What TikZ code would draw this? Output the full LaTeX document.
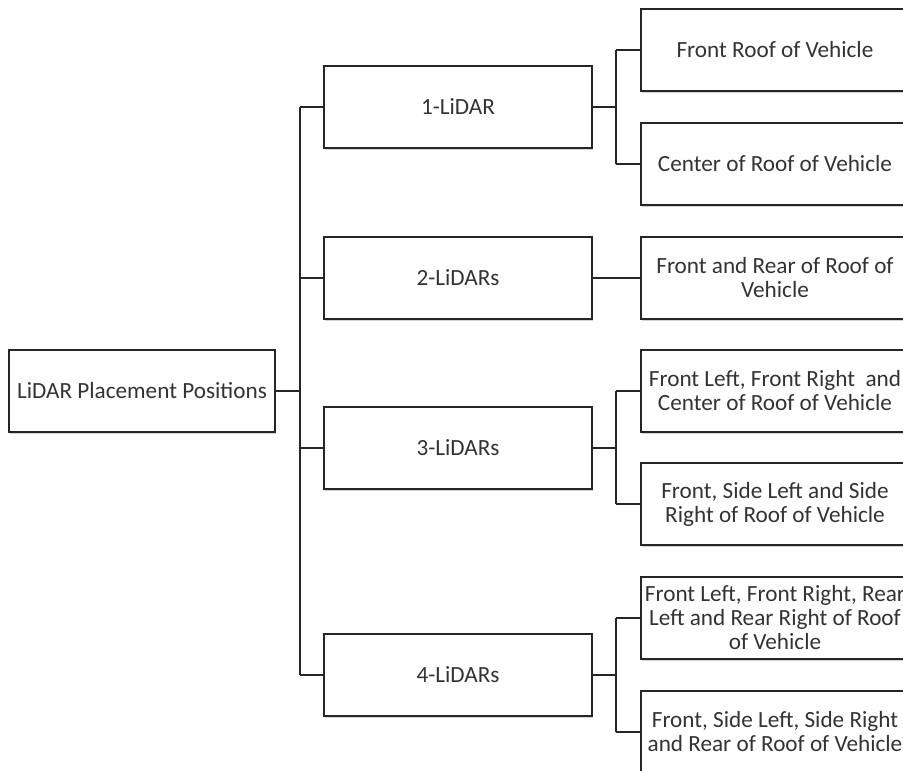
\documentclass[tikz,border=0pt]{standalone}
\usepackage{fontspec}
\setmainfont{Carlito}
\usetikzlibrary{shadows}
\begin{document}
\begin{tikzpicture}[x=1pt,y=-1pt,
  box/.style={draw=black!85, line width=1.6pt, fill=white, minimum width=268pt, minimum height=82pt,
    inner sep=1pt, align=center, text=black!80, font=\fontsize{23.2}{24}\selectfont,
    drop shadow={shadow xshift=0.5pt, shadow yshift=-2pt, opacity=0.18, fill=black}},
  conn/.style={draw=black!85, line width=1.6pt}]
\useasboundingbox (0,0) rectangle (903,771);
% root
\node[box, minimum width=266pt] (root) at (142,391) {LiDAR Placement Positions};
% level 1
\node[box] (l1) at (458,107) {1-LiDAR};
\node[box] (l2) at (458,278) {2-LiDARs};
\node[box] (l3) at (458,448) {3-LiDARs};
\node[box] (l4) at (458,675) {4-LiDARs};
% level 2
\node[box] (a1) at (775,50) {Front Roof of Vehicle};
\node[box] (a2) at (775,164) {Center of Roof of Vehicle};
\node[box] (b1) at (775,278) {Front and Rear of Roof of\\Vehicle};
\node[box] (c1) at (775,391) {Front Left, Front Right~ and\\Center of Roof of Vehicle};
\node[box] (c2) at (775,504) {Front, Side Left and Side\\Right of Roof of Vehicle};
\node[box] (d1) at (775,618) {Front Left, Front Right, Rear\\Left and Rear Right of Roof\\of Vehicle};
\node[box] (d2) at (775,732) {Front, Side Left, Side Right\\and Rear of Roof of Vehicle};
% trunk coordinates
\coordinate (tr0) at (300,391);
\coordinate (tr1) at (300,107);
\coordinate (tr2) at (300,278);
\coordinate (tr3) at (300,448);
\coordinate (tr4) at (300,675);
\draw[conn] (root.east) -- (tr0);
\draw[conn] (tr1) -- (tr4);
\draw[conn] (tr1) -- (l1.west);
\draw[conn] (tr2) -- (l2.west);
\draw[conn] (tr3) -- (l3.west);
\draw[conn] (tr4) -- (l4.west);
% branch 1
\coordinate (j1) at (616,107);
\coordinate (j1a) at (616,50);
\coordinate (j1b) at (616,164);
\draw[conn] (l1.east) -- (j1);
\draw[conn] (j1a) -- (j1b);
\draw[conn] (j1a) -- (a1.west);
\draw[conn] (j1b) -- (a2.west);
% branch 2
\draw[conn] (l2.east) -- (b1.west);
% branch 3
\coordinate (j3) at (616,448);
\coordinate (j3a) at (616,391);
\coordinate (j3b) at (616,504);
\draw[conn] (l3.east) -- (j3);
\draw[conn] (j3a) -- (j3b);
\draw[conn] (j3a) -- (c1.west);
\draw[conn] (j3b) -- (c2.west);
% branch 4
\coordinate (j4) at (616,675);
\coordinate (j4a) at (616,618);
\coordinate (j4b) at (616,732);
\draw[conn] (l4.east) -- (j4);
\draw[conn] (j4a) -- (j4b);
\draw[conn] (j4a) -- (d1.west);
\draw[conn] (j4b) -- (d2.west);
\end{tikzpicture}
\end{document}
